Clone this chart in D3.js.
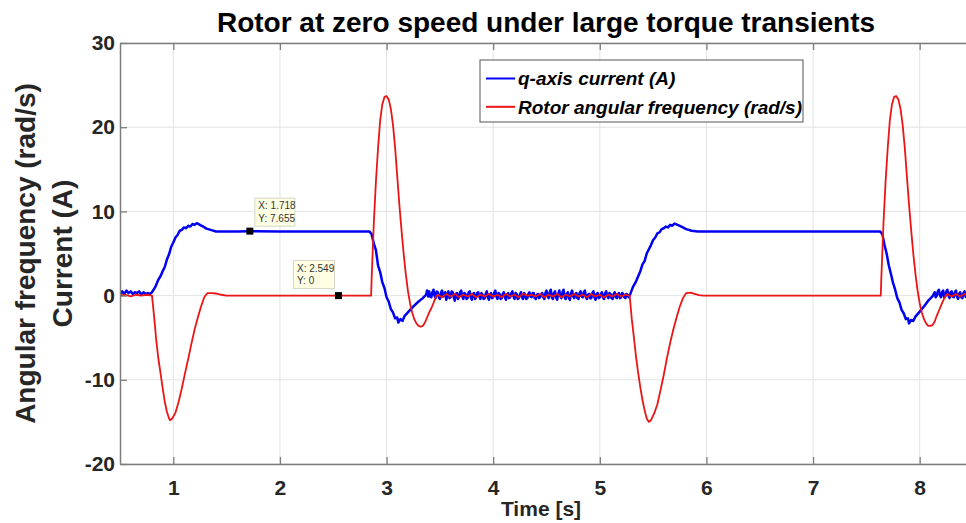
<!DOCTYPE html>
<html>
<head>
<meta charset="utf-8">
<script src="https://cdn.jsdelivr.net/npm/d3@7"></script>
<style>
  body { margin: 0; background: #fff; }
  svg { display: block; font-family: 'Liberation Sans', Arial, sans-serif; }
</style>
</head>
<body>
<div id="chart"></div>
<script>
// tick values
const xTicks = [1, 2, 3, 4, 5, 6, 7, 8]
const yTicks = [-20, -10, 0, 10, 20, 30]

// q-axis current (A), [time, value]
const qCurrent = [
  [0.50, 0.1], [0.52, 0.5], [0.54, 0.2], [0.56, 0.6], [0.58, 0.3], [0.60, 0.5], [0.62, 0.2], [0.64, 0.4],
  [0.66, 0.3], [0.68, 0.5], [0.70, 0.1], [0.72, 0.4], [0.74, 0.2], [0.76, 0.3], [0.78, 0.2], [0.80, 0.4],
  [0.83, 1.0], [0.86, 1.9], [0.88, 2.3], [0.90, 2.9], [0.92, 3.4], [0.94, 4.3], [0.96, 4.9], [0.98, 5.8],
  [1.00, 6.3], [1.02, 6.9], [1.04, 7.2], [1.06, 7.7], [1.08, 7.8], [1.10, 8.1], [1.12, 8.0], [1.14, 8.3],
  [1.16, 8.2], [1.18, 8.5], [1.20, 8.4], [1.22, 8.6], [1.25, 8.4], [1.28, 8.2], [1.31, 7.95], [1.35, 7.8],
  [1.40, 7.62], [1.45, 7.6], [1.60, 7.62], [1.718, 7.655], [2.00, 7.6], [2.40, 7.62], [2.84, 7.6],
  [2.86, 7.3], [2.88, 6.2], [2.90, 5.4], [2.92, 3.6], [2.94, 2.8], [2.96, 1.6], [2.98, 0.9], [3.00, -0.2],
  [3.02, -0.7], [3.04, -1.6], [3.06, -2.0], [3.08, -2.7], [3.10, -2.6], [3.11, -3.2], [3.13, -2.8],
  [3.15, -3.0], [3.17, -2.4], [3.20, -2.0], [3.25, -1.3], [3.30, -0.7], [3.34, -0.3], [3.37, 0.1],
  [3.38, 0.6], [3.39, -0.1],
  [3.40, 0.5], [3.41, -0.1], [3.42, -0.2], [3.43, 0.4], [3.44, 0.7], [3.45, 0.0], [3.46, -0.3], [3.47, 0.5],
  [3.48, 0.4], [3.49, -0.2], [3.50, -0.4], [3.51, 0.3], [3.52, 0.6], [3.53, -0.1], [3.54, 0.0], [3.55, 0.4],
  [3.56, -0.5], [3.57, 0.1], [3.58, 0.5], [3.59, -0.3], [3.60, -0.2], [3.61, 0.5], [3.62, 0.4], [3.63, -0.2],
  [3.64, -0.6], [3.65, 0.2], [3.66, 0.3], [3.67, -0.4], [3.68, -0.1], [3.69, 0.4], [3.70, 0.6], [3.71, -0.1],
  [3.72, -0.4], [3.73, 0.3], [3.74, 0.2], [3.75, -0.4], [3.76, -0.3], [3.77, 0.4], [3.78, 0.5], [3.79, -0.2],
  [3.80, -0.5], [3.81, 0.2], [3.82, 0.3], [3.83, -0.4], [3.84, -0.2], [3.85, 0.3], [3.86, 0.4], [3.87, -0.1],
  [3.88, -0.4], [3.89, 0.3], [3.90, 0.1], [3.91, -0.4], [3.92, -0.3], [3.93, 0.2], [3.94, 0.5], [3.95, -0.2],
  [3.96, -0.5], [3.97, 0.1], [3.98, 0.3], [3.99, -0.3], [4.00, -0.2], [4.01, 0.3], [4.02, 0.6], [4.03, -0.1],
  [4.04, -0.4], [4.05, 0.3], [4.06, 0.2], [4.07, -0.4], [4.08, -0.3], [4.09, 0.2], [4.10, 0.4], [4.11, -0.2],
  [4.12, -0.5], [4.13, 0.1], [4.14, 0.3], [4.15, -0.3], [4.16, -0.2], [4.17, 0.3], [4.18, 0.5], [4.19, -0.1],
  [4.20, -0.4], [4.21, 0.3], [4.22, 0.2], [4.23, -0.4], [4.24, -0.3], [4.25, 0.1], [4.26, 0.4], [4.27, -0.2],
  [4.28, -0.4], [4.29, 0.3], [4.30, 0.1], [4.31, -0.4], [4.32, -0.3], [4.33, 0.2], [4.34, 0.4], [4.35, -0.1],
  [4.36, -0.2], [4.37, 0.3], [4.38, 0.3], [4.39, -0.3], [4.40, -0.4], [4.41, 0.1], [4.42, 0.2], [4.43, -0.3],
  [4.44, -0.2], [4.45, 0.2], [4.46, 0.3], [4.47, -0.2], [4.48, -0.4], [4.49, 0.3], [4.50, 0.6], [4.51, -0.1],
  [4.52, -0.3], [4.53, 0.4], [4.54, 0.7], [4.55, -0.2], [4.56, -0.4], [4.57, 0.3], [4.58, 0.5], [4.59, -0.2],
  [4.60, -0.5], [4.61, 0.2], [4.62, 0.6], [4.63, -0.1], [4.64, -0.3], [4.65, 0.4], [4.66, 0.7], [4.67, -0.2],
  [4.68, -0.4], [4.69, 0.2], [4.70, 0.4], [4.71, -0.3], [4.72, -0.5], [4.73, 0.3], [4.74, 0.6], [4.75, -0.1],
  [4.76, -0.3], [4.77, 0.2], [4.78, 0.3], [4.79, -0.3], [4.80, -0.4], [4.81, 0.3], [4.82, 0.5], [4.83, -0.1],
  [4.84, -0.2], [4.85, 0.4], [4.86, 0.6], [4.87, -0.2], [4.88, -0.4], [4.89, 0.1], [4.90, 0.2], [4.91, -0.3],
  [4.92, -0.3], [4.93, 0.3], [4.94, 0.5], [4.95, -0.2], [4.96, -0.5], [4.97, 0.2], [4.98, 0.3], [4.99, -0.3],
  [5.00, -0.2], [5.01, 0.2], [5.02, 0.4], [5.03, -0.2], [5.04, -0.4], [5.05, 0.3], [5.06, 0.5], [5.07, -0.1],
  [5.08, -0.3], [5.09, 0.3], [5.10, 0.2], [5.11, -0.3], [5.12, -0.4], [5.13, 0.2], [5.14, 0.4], [5.15, -0.2],
  [5.16, -0.3], [5.17, 0.2], [5.18, 0.3], [5.19, -0.3], [5.20, -0.2], [5.21, 0.3], [5.22, 0.2], [5.23, -0.2],
  [5.24, -0.3], [5.25, 0.2], [5.26, 0.1], [5.27, -0.2], [5.28, 0.0],
  [5.31, 1.0], [5.34, 1.7], [5.36, 2.3], [5.38, 2.9], [5.40, 3.7], [5.42, 4.1], [5.44, 5.0], [5.46, 5.5],
  [5.48, 6.0], [5.50, 6.6], [5.52, 6.9], [5.54, 7.4], [5.56, 7.5], [5.58, 7.9], [5.60, 8.0], [5.62, 8.2],
  [5.64, 8.1], [5.66, 8.4], [5.68, 8.3], [5.70, 8.55], [5.73, 8.4], [5.77, 8.15], [5.81, 7.9], [5.86, 7.7],
  [5.92, 7.6], [6.10, 7.62], [6.50, 7.6], [7.00, 7.62], [7.40, 7.6], [7.63, 7.6],
  [7.65, 7.3], [7.67, 6.0], [7.69, 5.0], [7.71, 3.6], [7.73, 2.6], [7.75, 1.5], [7.77, 0.7], [7.79, -0.3],
  [7.81, -0.8], [7.83, -1.7], [7.85, -2.1], [7.87, -2.8], [7.89, -2.7], [7.90, -3.3], [7.92, -2.9],
  [7.94, -3.0], [7.96, -2.5], [8.00, -1.9], [8.04, -1.3], [8.08, -0.6], [8.12, -0.1], [8.14, 0.4],
  [8.15, -0.2], [8.16, 0.0], [8.17, 0.5], [8.18, 0.7], [8.19, 0.0], [8.20, -0.2], [8.21, 0.4], [8.22, 0.6],
  [8.23, -0.2], [8.24, -0.1], [8.25, 0.5], [8.26, 0.7], [8.27, 0.0], [8.28, -0.3], [8.29, 0.4], [8.30, 0.5],
  [8.31, -0.1], [8.32, -0.2], [8.33, 0.4], [8.34, 0.6], [8.35, -0.1], [8.36, -0.4], [8.37, 0.2], [8.38, 0.4],
  [8.39, -0.2], [8.40, -0.3], [8.41, 0.3], [8.42, 0.5], [8.43, -0.1], [8.44, -0.2], [8.45, 0.4], [8.46, 0.3],
  [8.47, -0.2], [8.48, -0.4], [8.49, 0.3], [8.50, 0.2]
]

// rotor angular frequency (rad/s), [time, value]
const rotorFreq = [
  [0.50, 0.0], [0.55, 0.1], [0.60, -0.1], [0.65, 0.1], [0.70, 0.0], [0.75, 0.1], [0.80, 0.0],
  [0.82, -2.5], [0.84, -5.3], [0.86, -7.5], [0.88, -9.2], [0.90, -11.0], [0.92, -12.6], [0.94, -13.8],
  [0.96, -14.6], [0.97, -14.8], [0.99, -14.6], [1.02, -13.9], [1.05, -12.6], [1.08, -11.0], [1.11, -9.2],
  [1.14, -7.5], [1.17, -5.7], [1.20, -4.0], [1.23, -2.6], [1.26, -1.3], [1.29, -0.2], [1.32, 0.3],
  [1.36, 0.3], [1.40, 0.25], [1.45, 0.1], [1.50, 0.0], [2.00, 0.0], [2.549, 0.0], [2.855, 0.0],
  [2.86, 2.0], [2.88, 8.5], [2.90, 13.5], [2.92, 17.5], [2.94, 20.8], [2.96, 22.7], [2.98, 23.6],
  [3.00, 23.7], [3.02, 23.3], [3.04, 22.2], [3.06, 20.3], [3.08, 17.6], [3.10, 14.2], [3.12, 10.8],
  [3.14, 7.8], [3.16, 5.0], [3.18, 2.6], [3.20, 0.6], [3.22, -0.9], [3.24, -2.0], [3.26, -2.8],
  [3.28, -3.3], [3.30, -3.6], [3.32, -3.7], [3.34, -3.6], [3.36, -3.2], [3.38, -2.6], [3.40, -2.0],
  [3.42, -1.5], [3.44, -0.9], [3.46, -0.2], [3.48, 0.1],
  [3.52, -0.2], [3.56, 0.2], [3.60, -0.1], [3.64, 0.2], [3.68, -0.2], [3.72, 0.1], [3.76, -0.1],
  [3.80, 0.2], [3.84, -0.2], [3.88, 0.1], [3.92, -0.1], [3.96, 0.2], [4.00, -0.1], [4.04, 0.1],
  [4.08, -0.2], [4.12, 0.2], [4.16, -0.1], [4.20, 0.1], [4.24, -0.2], [4.28, 0.2], [4.32, 0.0],
  [4.36, 0.1], [4.40, -0.1], [4.44, 0.2], [4.48, -0.2], [4.52, 0.1], [4.56, -0.1], [4.60, 0.2],
  [4.64, -0.2], [4.68, 0.1], [4.72, -0.1], [4.76, 0.2], [4.80, -0.1], [4.84, 0.1], [4.88, -0.2],
  [4.92, 0.2], [4.96, -0.1], [5.00, 0.1], [5.04, -0.2], [5.08, 0.1], [5.12, -0.1], [5.16, 0.2],
  [5.20, -0.1], [5.24, 0.1], [5.28, 0.0],
  [5.30, -2.8], [5.32, -5.0], [5.34, -7.3], [5.36, -9.2], [5.38, -10.9], [5.40, -12.4], [5.42, -13.6],
  [5.44, -14.6], [5.46, -15.0], [5.48, -14.8], [5.51, -14.0], [5.54, -12.9], [5.57, -11.2], [5.60, -9.4],
  [5.63, -7.4], [5.66, -5.6], [5.69, -4.0], [5.72, -2.6], [5.75, -1.3], [5.78, -0.3], [5.81, 0.3],
  [5.85, 0.35], [5.89, 0.2], [5.93, 0.05], [5.97, 0.0], [7.00, 0.0], [7.635, 0.0],
  [7.64, 2.0], [7.66, 8.5], [7.68, 13.5], [7.70, 17.5], [7.72, 20.8], [7.74, 22.7], [7.76, 23.6],
  [7.78, 23.7], [7.80, 23.3], [7.82, 22.2], [7.84, 20.3], [7.86, 17.6], [7.88, 14.2], [7.90, 10.8],
  [7.92, 7.8], [7.94, 5.0], [7.96, 2.6], [7.98, 0.6], [8.00, -0.9], [8.02, -2.0], [8.04, -2.8],
  [8.06, -3.3], [8.08, -3.6], [8.10, -3.6], [8.12, -3.5], [8.14, -3.1], [8.16, -2.4], [8.18, -1.8],
  [8.20, -1.2], [8.22, -0.6], [8.24, -0.1], [8.26, 0.2], [8.30, -0.1], [8.34, 0.2], [8.38, -0.1],
  [8.42, 0.2], [8.46, -0.1], [8.50, 0.1]
]

// data tips shown on the figure
const dataTips = [
  { x: 1.718, y: 7.655 },
  { x: 2.549, y: 0 }
]

const legendLabels = ['q-axis current (A)', 'Rotor angular frequency (rad/s)']
const colors = ['#0000f2', '#ec1515']

const margin = { top: 43, left: 120, right: -7, bottom: 59 }
const W = 966
const H = 523
const width = W - margin.left - margin.right
const height = H - margin.top - margin.bottom

const svg = d3
  .select('#chart')
  .append('svg')
  .attr('width', W)
  .attr('height', H)

const g = svg
  .append('g')
  .attr('transform', 'translate(' + margin.left + ',' + margin.top + ')')

const xPositionScale = d3.scaleLinear().domain([0.5, 8.5]).range([0, width])
const yPositionScale = d3.scaleLinear().domain([-20, 30]).range([height, 0])

// grid lines
g.append('g')
  .attr('class', 'grid')
  .selectAll('line')
  .data(xTicks)
  .enter()
  .append('line')
  .attr('x1', d => xPositionScale(d))
  .attr('x2', d => xPositionScale(d))
  .attr('y1', 0)
  .attr('y2', height)
  .attr('stroke', '#e3e3e3')
  .attr('stroke-width', 1)

g.append('g')
  .attr('class', 'grid')
  .selectAll('line')
  .data(yTicks)
  .enter()
  .append('line')
  .attr('x1', 0)
  .attr('x2', width)
  .attr('y1', d => yPositionScale(d))
  .attr('y2', d => yPositionScale(d))
  .attr('stroke', '#e3e3e3')
  .attr('stroke-width', 1)

// clip for the traces
svg
  .append('defs')
  .append('clipPath')
  .attr('id', 'plot-clip')
  .append('rect')
  .attr('width', width)
  .attr('height', height)

const line = d3
  .line()
  .x(d => xPositionScale(d[0]))
  .y(d => yPositionScale(d[1]))

const traces = g.append('g').attr('clip-path', 'url(#plot-clip)')

traces
  .append('path')
  .datum(qCurrent)
  .attr('d', line)
  .attr('fill', 'none')
  .attr('stroke', colors[0])
  .attr('stroke-width', 2.5)
  .attr('stroke-linejoin', 'round')

traces
  .append('path')
  .datum(rotorFreq)
  .attr('d', line)
  .attr('fill', 'none')
  .attr('stroke', colors[1])
  .attr('stroke-width', 1.8)
  .attr('stroke-linejoin', 'round')

// axes (ticks pointing inward, box style)
const axisColor = '#7d7d7d'
const labelColor = '#262626'
const plainFormat = d => String(d)

const xAxis = d3.axisBottom(xPositionScale).tickValues(xTicks).tickFormat(plainFormat)
  .tickSizeInner(-7).tickSizeOuter(0).tickPadding(16)
g.append('g')
  .attr('class', 'axis x-axis')
  .attr('transform', 'translate(0,' + height + ')')
  .call(xAxis)

const xAxisTop = d3.axisTop(xPositionScale).tickValues(xTicks).tickSizeInner(-7).tickSizeOuter(0).tickFormat('')
g.append('g')
  .attr('class', 'axis')
  .call(xAxisTop)

const yAxis = d3.axisLeft(yPositionScale).tickValues(yTicks).tickFormat(plainFormat)
  .tickSizeInner(-7).tickSizeOuter(0).tickPadding(5)
g.append('g')
  .attr('class', 'axis y-axis')
  .call(yAxis)

const yAxisRight = d3.axisRight(yPositionScale).tickValues(yTicks).tickSizeInner(-7).tickSizeOuter(0).tickFormat('')
g.append('g')
  .attr('class', 'axis')
  .attr('transform', 'translate(' + width + ',0)')
  .call(yAxisRight)

svg.selectAll('.axis .domain').attr('stroke', axisColor).attr('stroke-width', 1.5)
svg.selectAll('.axis .tick line').attr('stroke', axisColor).attr('stroke-width', 1.3)
svg
  .selectAll('.axis .tick text')
  .attr('fill', labelColor)
  .style('font-size', '21px')
  .style('font-weight', 'bold')

// data tips
dataTips.forEach((d, i) => {
  const px = xPositionScale(d.x)
  const py = yPositionScale(d.y)
  const boxX = i === 0 ? px + 5 : px - 45
  const boxY = i === 0 ? py - 33 : py - 35
  const boxW = i === 0 ? 40 : 41
  g.append('rect')
    .attr('x', boxX)
    .attr('y', boxY)
    .attr('width', boxW)
    .attr('height', 28)
    .attr('fill', '#ffffe3')
    .attr('stroke', '#d6d6c8')
    .attr('stroke-width', 1)
  g.append('text')
    .attr('x', boxX + 3.5)
    .attr('y', boxY + 11)
    .attr('fill', '#333')
    .style('font-size', '10px')
    .text('X: ' + d.x)
  g.append('text')
    .attr('x', boxX + 3.5)
    .attr('y', boxY + 23.5)
    .attr('fill', '#333')
    .style('font-size', '10px')
    .text('Y: ' + d.y)
  g.append('rect')
    .attr('x', px - 3.5)
    .attr('y', py - 3.5)
    .attr('width', 7)
    .attr('height', 7)
    .attr('fill', '#000')
})

// legend
const legend = svg.append('g').attr('transform', 'translate(480,60)')
legend
  .append('rect')
  .attr('width', 323)
  .attr('height', 62)
  .attr('fill', '#fff')
  .attr('stroke', '#555')
  .attr('stroke-width', 1)

legendLabels.forEach((label, i) => {
  const ly = 18.5 + i * 28.3
  legend
    .append('line')
    .attr('x1', 6)
    .attr('x2', 35)
    .attr('y1', ly)
    .attr('y2', ly)
    .attr('stroke', colors[i])
    .attr('stroke-width', 2)
  legend
    .append('text')
    .attr('x', 38)
    .attr('y', ly + 6.8)
    .attr('fill', '#000')
    .style('font-size', '19px')
    .style('font-weight', 'bold')
    .style('font-style', 'italic')
    .text(label)
})

// title and axis labels
svg
  .append('text')
  .attr('x', 546)
  .attr('y', 32)
  .attr('text-anchor', 'middle')
  .attr('fill', '#000')
  .style('font-size', '28px')
  .style('font-weight', 'bold')
  .text('Rotor at zero speed under large torque transients')

svg
  .append('text')
  .attr('x', 541)
  .attr('y', 516)
  .attr('text-anchor', 'middle')
  .attr('fill', labelColor)
  .style('font-size', '21px')
  .style('font-weight', 'bold')
  .text('Time [s]')

const yLabel = svg
  .append('text')
  .attr('transform', 'translate(0,' + (margin.top + height / 2) + ') rotate(-90)')
  .attr('text-anchor', 'middle')
  .attr('fill', labelColor)
  .style('font-size', '28px')
  .style('font-weight', 'bold')

yLabel.append('tspan').attr('x', 0).attr('y', 35).text('Angular frequency (rad/s)')
yLabel.append('tspan').attr('x', 0).attr('y', 71.5).text('Current (A)')
</script>
</body>
</html>
